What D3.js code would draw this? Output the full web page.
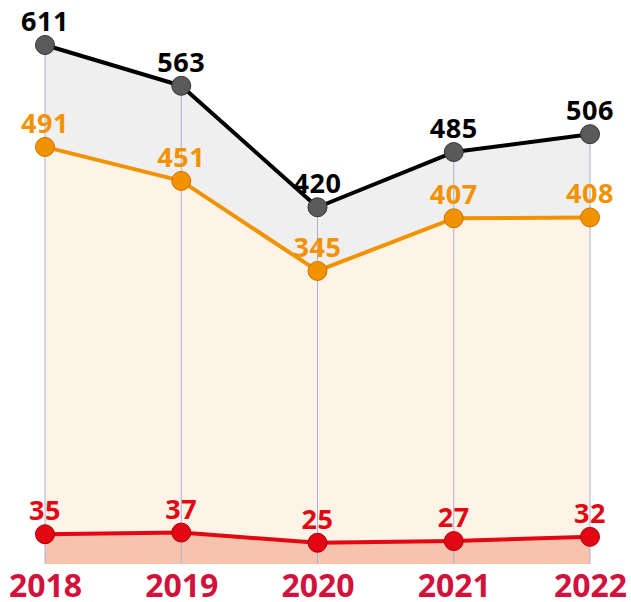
<!DOCTYPE html>
<html><head><meta charset="utf-8">
<script src="https://cdn.jsdelivr.net/npm/d3@7"></script>
<style>body{margin:0;background:#fff}svg{display:block}text{font-family:"Open Sans",sans-serif;font-weight:700}</style>
</head><body><svg id="c" width="631" height="602"></svg>
<script>
const years = ["2018","2019","2020","2021","2022"];
const totalValues = [611,563,420,485,506];
const orangeValues = [491,451,345,407,408];
const redValues = [35,37,25,27,32];

const series = [
  {values: totalValues, line:"#000000", dot:"#5a5a5a", dotStroke:"#333", fill:"#efefef", label:"#000000"},
  {values: orangeValues, line:"#f39200", dot:"#f39200", dotStroke:"#c87400", fill:"#fdf3e6", label:"#f39200"},
  {values: redValues, line:"#e30613", dot:"#e30613", dotStroke:"#a8000c", fill:"#f7c3ad", label:"#e30613"}
];

const svg = d3.select("#c");
const x = d3.scalePoint().domain(years).range([45,590]);
const y = d3.scaleLinear().domain([0,611]).range([564,45]);

series.forEach(s=>{
  const area = d3.area().x((d,i)=>x(years[i])).y0(y(0)).y1(d=>y(d));
  svg.append("path").datum(s.values).attr("d",area).attr("fill",s.fill);
});
svg.selectAll("line.g").data(years).enter().append("line")
  .attr("x1",d=>x(d)).attr("x2",d=>x(d))
  .attr("y1",(d,i)=>y(totalValues[i])).attr("y2",y(0))
  .attr("stroke","#a9b0cf").attr("stroke-width",1);
series.forEach(s=>{
  const line = d3.line().x((d,i)=>x(years[i])).y(d=>y(d));
  svg.append("path").datum(s.values).attr("d",line).attr("fill","none")
    .attr("stroke",s.line).attr("stroke-width",4).attr("stroke-linejoin","round");
});
series.forEach(s=>{
  svg.selectAll(null).data(s.values).enter().append("circle")
    .attr("cx",(d,i)=>x(years[i])).attr("cy",d=>y(d)).attr("r",9.5)
    .attr("fill",s.dot).attr("stroke",s.dotStroke).attr("stroke-width",1);
  svg.selectAll(null).data(s.values).enter().append("text")
    .attr("x",(d,i)=>x(years[i])).attr("y",d=>y(d)-14)
    .attr("text-anchor","middle").attr("font-size",27).attr("letter-spacing",0.5).attr("fill",s.label)
    .text(d=>d);
});
const ax = svg.append("g").attr("transform",`translate(0,${y(0)})`).call(d3.axisBottom(x).tickSize(0).tickPadding(0));
ax.select(".domain").remove();
ax.selectAll("text").attr("font-size",32).attr("fill","#d2123c").attr("dy",null).attr("y",33)
  .style("font-family","'Open Sans',sans-serif").style("font-weight",700);
</script></body></html>
